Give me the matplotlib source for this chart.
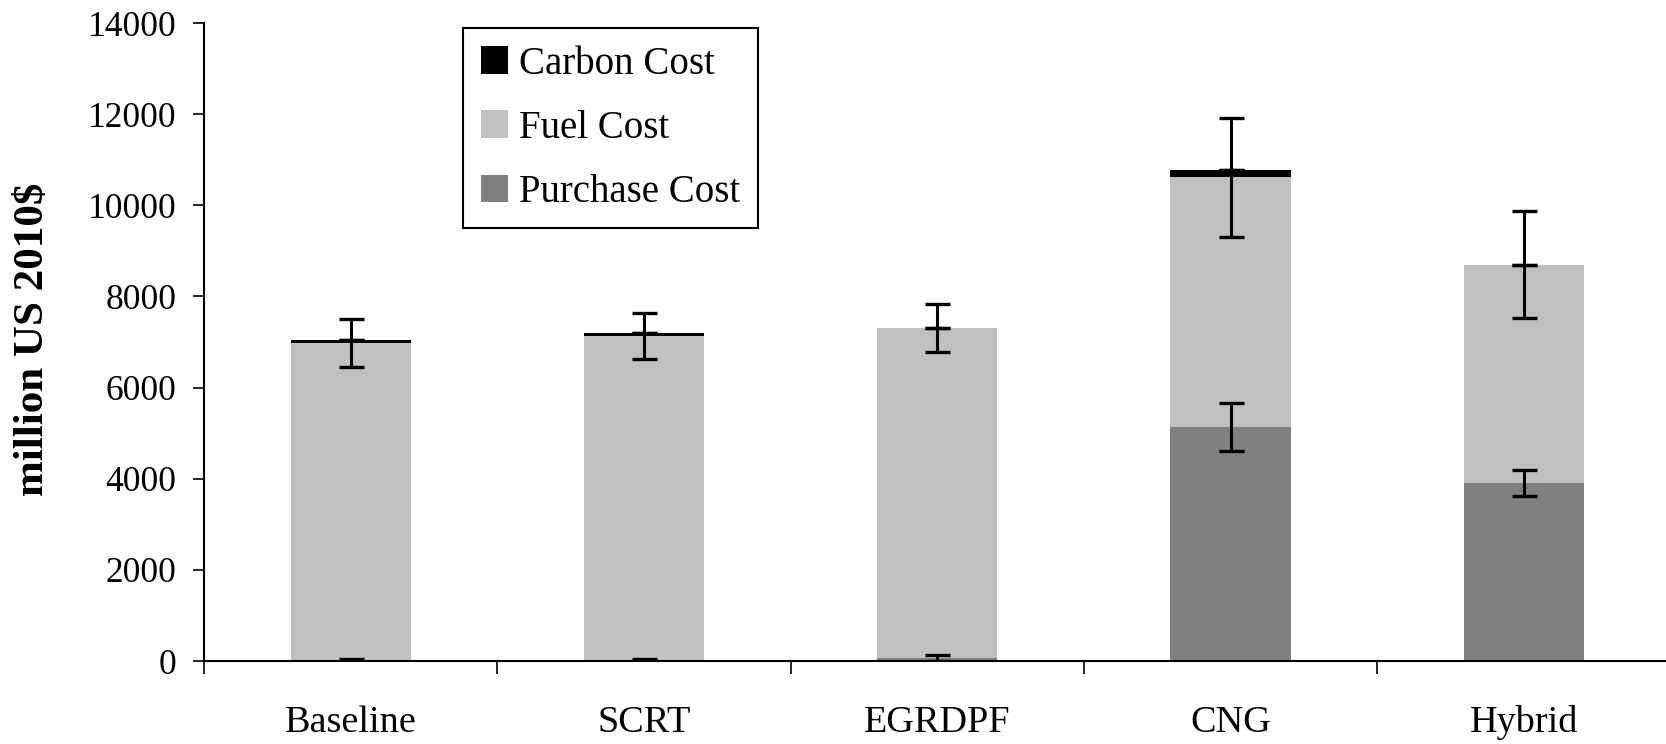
import numpy as np
import matplotlib
matplotlib.use("Agg")
import matplotlib.pyplot as plt
from matplotlib.ticker import FixedLocator, NullFormatter

plt.rcParams['font.family'] = ['Liberation Serif', 'DejaVu Serif']

# life-cycle cost per technology, million US 2010$
techs = ["Baseline", "SCRT", "EGRDPF", "CNG", "Hybrid"]
purchase = [0, 0, 60, 5140, 3900]
purchase_err = [40, 40, 70, 530, 285]
fuel = [6975, 7140, 7247, 5475, 4800]
fuel_err = [525, 505, 523, 1300, 1165]
carbon = [60, 60, 0, 150, 0]
carbon_err = [0, 0, 0, 0, 0]

W, H = 1666, 744
fig = plt.figure(figsize=(W / 100, H / 100), dpi=100)
ax = fig.add_axes([204 / W, (H - 661) / H, (W - 204) / W, (661 - 23) / H])

x = np.arange(len(techs))
bw = 0.41
purchase = np.array(purchase)
fuel = np.array(fuel)
carbon = np.array(carbon)

ax.bar(x, purchase, bw, color="#808080", label="Purchase Cost", zorder=2)
ax.bar(x, fuel, bw, bottom=purchase, color="#c0c0c0", label="Fuel Cost", zorder=2)
ax.bar(x, carbon, bw, bottom=purchase + fuel, color="black", label="Carbon Cost", zorder=2)

eb = dict(fmt="none", ecolor="black", elinewidth=2.2, capsize=9, capthick=2.4, zorder=3)
ax.errorbar(x, purchase, yerr=purchase_err, **eb)
ax.errorbar(x, purchase + fuel, yerr=fuel_err, **eb)
ax.errorbar(x, purchase + fuel + carbon, yerr=carbon_err, **eb)

ax.set_ylim(0, 14000)
ax.set_xlim(-0.5, -0.5 + (W - 204) / 293.3)
ax.set_yticks(np.arange(0, 14001, 2000))
ax.tick_params(axis="y", direction="out", length=8, width=1.2, pad=12, labelsize=25.5)

ax.set_xticks(x)
ax.set_xticklabels(techs)
ax.tick_params(axis="x", which="major", length=0, pad=32, labelsize=27.5)
ax.xaxis.set_minor_locator(FixedLocator(np.arange(-0.5, 4.6, 1.0)))
ax.xaxis.set_minor_formatter(NullFormatter())
ax.tick_params(axis="x", which="minor", direction="out", length=9, width=1.2)

for s in ["top", "right"]:
    ax.spines[s].set_visible(False)
for s in ["left", "bottom"]:
    ax.spines[s].set_linewidth(1.5)

ax.set_ylabel("million US 2010$", fontsize=31, fontweight="bold")
ax.yaxis.set_label_coords(52 / W, 1 - 339 / H, transform=fig.transFigure)

handles, labels = ax.get_legend_handles_labels()
leg = ax.legend(handles[::-1], labels[::-1], loc="upper left",
                bbox_to_anchor=(463 / W, 1 - 28 / H), bbox_transform=fig.transFigure,
                borderaxespad=0, fontsize=28, handlelength=0.7, handleheight=0.7,
                handletextpad=0.3, labelspacing=0.7, borderpad=0.45,
                fancybox=False, framealpha=1, edgecolor="black")
leg.get_frame().set_linewidth(1.5)

fig.savefig("out.png", dpi=100)
